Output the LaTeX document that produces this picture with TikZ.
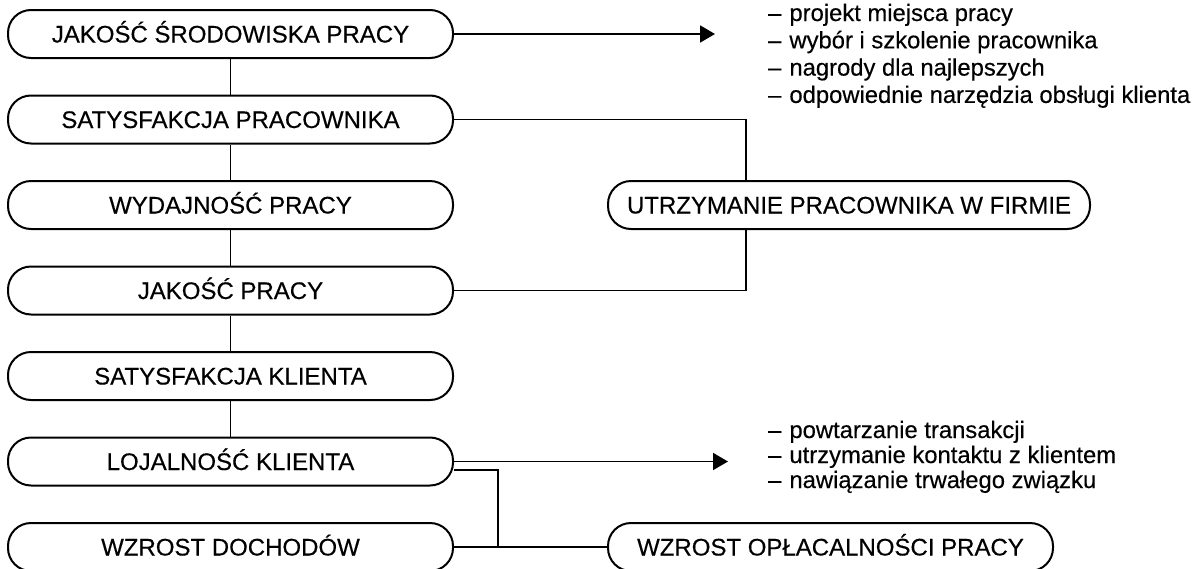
\documentclass[tikz,border=0pt]{standalone}
\usepackage{fontspec}
\setmainfont{Liberation Sans}
\newfontfamily\labelfont{Liberation Sans}[FakeBold=0.35]
\usetikzlibrary{arrows.meta}
\begin{document}
\begin{tikzpicture}[x=1pt,y=-1pt,
  stage/.style={draw, line width=2pt, rounded corners=23pt, minimum height=48pt,
    text height=17pt, text depth=0pt, inner xsep=0pt,
    font=\labelfont\fontsize{24}{28}\selectfont},
  link/.style={line width=1.8pt},
  outcome/.style={link, -{Triangle[length=15pt,width=17pt]}},
  item/.style={anchor=base west, inner sep=0pt, font=\labelfont\fontsize{23.8}{28}\selectfont}]
\useasboundingbox (0,0) rectangle (1192,568);

% main chain
\node[stage, minimum width=445pt] (js) at (230.5,34)    {JAKOŚĆ ŚRODOWISKA PRACY};
\node[stage, minimum width=445pt] (sp) at (230.5,119.5) {SATYSFAKCJA PRACOWNIKA};
\node[stage, minimum width=445pt] (wp) at (230.5,205)   {WYDAJNOŚĆ PRACY};
\node[stage, minimum width=445pt] (jp) at (230.5,290.5) {JAKOŚĆ PRACY};
\node[stage, minimum width=445pt] (sk) at (230.5,376)   {SATYSFAKCJA KLIENTA};
\node[stage, minimum width=445pt] (lk) at (230.5,461.5) {LOJALNOŚĆ KLIENTA};
\node[stage, minimum width=445pt] (wd) at (230.5,547)   {WZROST DOCHODÓW};

% side boxes
\node[stage, minimum width=482pt] (ut) at (849,205)   {UTRZYMANIE PRACOWNIKA W FIRMIE};
\node[stage, minimum width=445pt] (wo) at (830.5,547) {WZROST OPŁACALNOŚCI PRACY};

\draw[link] (js) -- (sp);
\draw[link] (sp) -- (wp);
\draw[link] (wp) -- (jp);
\draw[link] (jp) -- (sk);
\draw[link] (sk) -- (lk);

% retention loop
\coordinate (tap) at (746,0);
\draw[link] (sp.east) -| (tap |- ut.north);
\draw[link] (tap |- ut.south) |- (jp.east);

% profitability branch
\coordinate (drop) at (498,0);
\draw[link] ([yshift=-8.5pt]lk.east) -| (drop |- wd.east);
\draw[link] (wd.east) -- (wo.west);

% arrows to the lists
\coordinate (t1) at (715,34);
\coordinate (t2) at (728,461.5);
\draw[outcome] (js.east) -- (t1);
\draw[outcome] (lk.east) -- (t2);

% lists
\node[item] (a1) at (768,21)    {–\hspace{8pt}projekt miejsca pracy};
\node[item] (a2) at (768,48.3)  {–\hspace{8pt}wybór i szkolenie pracownika};
\node[item] (a3) at (768,75.6)  {–\hspace{8pt}nagrody dla najlepszych};
\node[item] (a4) at (768,102.9) {–\hspace{8pt}odpowiednie narzędzia obsługi klienta};

\node[item] (b1) at (768,438) {–\hspace{8pt}powtarzanie transakcji};
\node[item] (b2) at (768,463) {–\hspace{8pt}utrzymanie kontaktu z klientem};
\node[item] (b3) at (768,488) {–\hspace{8pt}nawiązanie trwałego związku};
\end{tikzpicture}
\end{document}
